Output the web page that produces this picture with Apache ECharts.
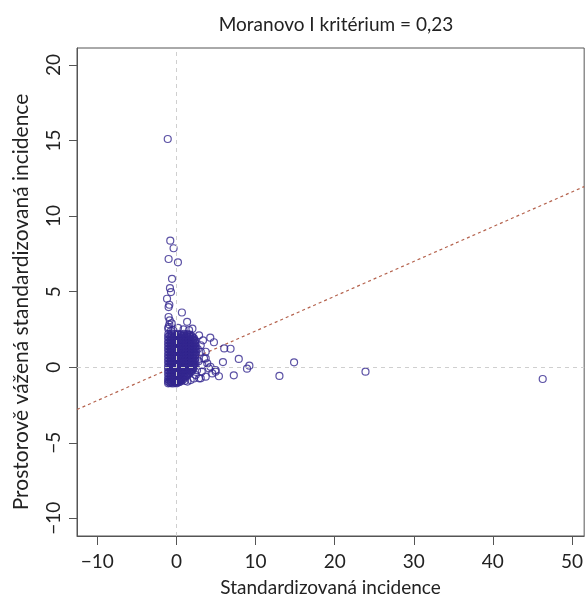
<!DOCTYPE html>
<html>
<head>
<meta charset="utf-8">
<script src="https://cdn.jsdelivr.net/npm/echarts@6/dist/echarts.min.js"></script>
<style>html,body{margin:0;padding:0;background:#fff}#c{width:586px;height:602px}</style>
</head>
<body>
<div id="c"></div>
<script>
const titleText = 'Moranovo I kritérium = 0,23';
const xAxisTitle = 'Standardizovaná incidence';
const yAxisTitle = 'Prostorově vážená standardizovaná incidence';
const xTicks = [-10, 0, 10, 20, 30, 40, 50];
const yTicks = [-10, -5, 0, 5, 10, 15, 20];

// Dense core of points
const corePoints = [
[-1.02,2.2],[-0.62,2.22],[-0.25,2.18],[0.15,2.21],[0.55,2.17],[0.95,2.2],[1.35,2.19],[1.7,2.16],
[-1.05,2.0],[-0.7,2.02],[-0.35,1.98],[0.0,2.01],[0.35,1.99],[0.7,2.02],[1.05,1.97],[1.4,2.0],[1.75,2.01],[2.05,1.98],
[-1.03,1.8],[-0.68,1.79],[-0.33,1.82],[0.02,1.78],[0.37,1.81],[0.72,1.8],[1.07,1.79],[1.42,1.82],[1.77,1.78],[2.1,1.8],[2.35,1.77],
[-1.05,1.6],[-0.7,1.61],[-0.35,1.58],[0.0,1.6],[0.35,1.62],[0.7,1.59],[1.05,1.61],[1.4,1.58],[1.75,1.6],[2.1,1.62],[2.4,1.59],
[-1.04,1.4],[-0.69,1.42],[-0.34,1.39],[0.01,1.41],[0.36,1.38],[0.71,1.4],[1.06,1.42],[1.41,1.39],[1.76,1.41],[2.11,1.38],[2.45,1.4],
[-1.05,1.2],[-0.7,1.19],[-0.35,1.21],[0.0,1.2],[0.35,1.18],[0.7,1.21],[1.05,1.2],[1.4,1.22],[1.75,1.19],[2.1,1.2],[2.45,1.21],
[-1.03,1.0],[-0.68,1.01],[-0.33,0.99],[0.02,1.02],[0.37,1.0],[0.72,0.98],[1.07,1.01],[1.42,1.0],[1.77,0.99],[2.12,1.02],[2.48,1.0],
[-1.05,0.8],[-0.7,0.79],[-0.35,0.81],[0.0,0.8],[0.35,0.82],[0.7,0.79],[1.05,0.8],[1.4,0.81],[1.75,0.78],[2.1,0.8],[2.42,0.82],
[-1.04,0.6],[-0.69,0.61],[-0.34,0.59],[0.01,0.6],[0.36,0.62],[0.71,0.58],[1.06,0.6],[1.41,0.61],[1.76,0.59],[2.11,0.6],[2.4,0.58],
[-1.05,0.4],[-0.7,0.41],[-0.35,0.39],[0.0,0.4],[0.35,0.38],[0.7,0.41],[1.05,0.4],[1.4,0.42],[1.75,0.39],[2.1,0.4],[2.38,0.41],
[-1.03,0.2],[-0.68,0.19],[-0.33,0.21],[0.02,0.2],[0.37,0.22],[0.72,0.19],[1.07,0.2],[1.42,0.18],[1.77,0.21],[2.12,0.2],[2.32,0.19],
[-1.05,0.0],[-0.7,0.01],[-0.35,-0.01],[0.0,0.0],[0.35,0.02],[0.7,-0.01],[1.05,0.0],[1.4,0.01],[1.75,-0.02],[2.08,0.0],[2.25,0.02],
[-1.04,-0.2],[-0.69,-0.19],[-0.34,-0.21],[0.01,-0.2],[0.36,-0.18],[0.71,-0.2],[1.06,-0.21],[1.41,-0.19],[1.72,-0.2],[2.0,-0.22],
[-1.05,-0.4],[-0.7,-0.41],[-0.35,-0.39],[0.0,-0.4],[0.35,-0.42],[0.7,-0.39],[1.05,-0.4],[1.38,-0.41],[1.65,-0.38],
[-1.03,-0.6],[-0.68,-0.59],[-0.33,-0.61],[0.02,-0.6],[0.37,-0.58],[0.72,-0.6],[1.0,-0.62],[1.25,-0.59],
[-1.05,-0.8],[-0.7,-0.79],[-0.35,-0.81],[0.0,-0.8],[0.35,-0.78],[0.62,-0.8],[0.85,-0.82],
[-1.04,-0.95],[-0.69,-0.96],[-0.34,-0.94],[0.0,-0.95],[0.25,-0.93],[0.45,-0.96],
[-1.05,-1.07],[-0.75,-1.06],[-0.45,-1.08],[-0.15,-1.05],[0.05,-1.07]
];

// Further points inside the core, between the rows above
const coreFillPoints = [
[-0.87,2.1],[-0.52,2.11],[-0.17,2.09],[0.18,2.1],[0.53,2.12],[0.88,2.09],[1.23,2.1],[1.58,2.11],[1.9,2.08],
[-0.87,1.9],[-0.52,1.91],[-0.17,1.89],[0.18,1.9],[0.53,1.92],[0.88,1.89],[1.23,1.9],[1.58,1.91],[1.93,1.88],[2.22,1.9],
[-0.87,1.7],[-0.52,1.69],[-0.17,1.71],[0.18,1.7],[0.53,1.68],[0.88,1.71],[1.23,1.7],[1.58,1.72],[1.93,1.69],[2.28,1.7],
[-0.87,1.5],[-0.52,1.51],[-0.17,1.49],[0.18,1.5],[0.53,1.52],[0.88,1.49],[1.23,1.5],[1.58,1.51],[1.93,1.48],[2.3,1.5],
[-0.87,1.3],[-0.52,1.29],[-0.17,1.31],[0.18,1.3],[0.53,1.28],[0.88,1.31],[1.23,1.3],[1.58,1.32],[1.93,1.29],[2.3,1.3],
[-0.87,1.1],[-0.52,1.11],[-0.17,1.09],[0.18,1.1],[0.53,1.12],[0.88,1.09],[1.23,1.1],[1.58,1.11],[1.93,1.08],[2.3,1.1],
[-0.87,0.9],[-0.52,0.89],[-0.17,0.91],[0.18,0.9],[0.53,0.88],[0.88,0.91],[1.23,0.9],[1.58,0.92],[1.93,0.89],[2.3,0.9],
[-0.87,0.7],[-0.52,0.71],[-0.17,0.69],[0.18,0.7],[0.53,0.72],[0.88,0.69],[1.23,0.7],[1.58,0.71],[1.93,0.68],[2.28,0.7],
[-0.87,0.5],[-0.52,0.49],[-0.17,0.51],[0.18,0.5],[0.53,0.48],[0.88,0.51],[1.23,0.5],[1.58,0.52],[1.93,0.49],[2.25,0.5],
[-0.87,0.3],[-0.52,0.31],[-0.17,0.29],[0.18,0.3],[0.53,0.32],[0.88,0.29],[1.23,0.3],[1.58,0.31],[1.93,0.28],[2.22,0.3],
[-0.87,0.1],[-0.52,0.09],[-0.17,0.11],[0.18,0.1],[0.53,0.08],[0.88,0.11],[1.23,0.1],[1.58,0.12],[1.93,0.09],[2.18,0.1],
[-0.87,-0.1],[-0.52,-0.09],[-0.17,-0.11],[0.18,-0.1],[0.53,-0.08],[0.88,-0.11],[1.23,-0.1],[1.58,-0.09],[1.9,-0.12],[2.12,-0.1],
[-0.87,-0.3],[-0.52,-0.31],[-0.17,-0.29],[0.18,-0.3],[0.53,-0.32],[0.88,-0.29],[1.23,-0.3],[1.55,-0.31],[1.85,-0.29],
[-0.87,-0.5],[-0.52,-0.49],[-0.17,-0.51],[0.18,-0.5],[0.53,-0.48],[0.88,-0.51],[1.2,-0.5],[1.45,-0.49],
[-0.87,-0.7],[-0.52,-0.71],[-0.17,-0.69],[0.18,-0.7],[0.53,-0.72],[0.82,-0.69],[1.05,-0.7],
[-0.87,-0.88],[-0.52,-0.87],[-0.17,-0.89],[0.18,-0.88],[0.45,-0.86],[0.65,-0.89],
[-0.9,-1.01],[-0.6,-1.0],[-0.3,-1.02],[0.0,-1.01],[0.3,-0.99]
];

// Scattered points around the core
const outerPoints = [
[-1.1,15.1],[-0.78,8.37],[-0.36,7.87],[-0.99,7.16],[0.19,6.94],[-0.56,5.85],[-0.82,5.23],[-0.69,4.97],
[-1.19,4.53],[-0.9,4.13],[-0.99,3.98],[0.69,3.62],[-0.99,3.32],[1.35,3.0],[-0.9,2.82],[-1.03,2.55],
[-0.69,2.4],[2.02,2.55],[-1.0,2.65],[-0.85,3.1],[-0.6,2.9],[0.2,2.6],[0.9,2.5],[1.6,2.45],[-0.4,2.45],
[4.28,1.95],[4.74,1.65],[6.04,1.24],[6.84,1.22],[7.88,0.55],[5.88,0.34],[9.22,0.1],[8.92,-0.1],
[14.87,0.32],[13.02,-0.58],[7.25,-0.54],[5.37,-0.6],[4.95,-0.3],[3.27,0.14],[3.07,1.02],
[23.9,-0.3],[46.3,-0.78],
[3.36,1.78],[3.7,0.58],[3.9,0.25],[4.3,0.03],[2.86,-0.74],[1.8,-0.85],[3.7,-0.63],[4.53,-0.41],
[2.86,2.11],[3.07,1.45],[3.7,1.02],[3.49,0.58],[4.11,-0.08],[4.95,-0.19],[2.45,-0.52],[3.07,-0.74],[1.39,-0.95],
[2.7,1.2],[2.8,0.4],[2.6,-0.2],[3.2,-0.3],[2.2,-0.75],[1.1,-0.9]
];

// Regression line endpoints
const regLine = [[-12.57, -2.8], [51.54, 11.95]];

const FONT = 'Lato, "Noto Sans", sans-serif';
const PT = '#33278f';
const fmt = v => String(v).replace('-', '\u2212');

const chart = echarts.init(document.getElementById('c'), null, {renderer: 'canvas'});
chart.setOption({
  animation: false,
  backgroundColor: '#ffffff',
  textStyle: {fontFamily: FONT},
  graphic: [{
    type: 'text', x: 336, y: 25,
    style: {text: titleText, textAlign: 'center', textVerticalAlign: 'middle',
            font: '19px ' + FONT, fill: '#222'}
  }, {
    type: 'text', x: 21, y: 302, rotation: Math.PI / 2,
    style: {text: yAxisTitle, textAlign: 'center', textVerticalAlign: 'middle',
            font: '21px ' + FONT, fill: '#222'}
  }],
  grid: {left: 77, top: 48, right: -2, bottom: 63.5, show: true, borderColor: '#555', borderWidth: 1, backgroundColor: 'transparent'},
  xAxis: {
    type: 'value', min: -12.57, max: 51.54,
    name: xAxisTitle, nameLocation: 'middle', nameGap: 42,
    nameTextStyle: {fontSize: 19, color: '#222', fontFamily: FONT},
    axisLine: {show: true, onZero: false, lineStyle: {color: '#555'}},
    axisTick: {show: true, length: 9, lineStyle: {color: '#555'}, customValues: xTicks},
    axisLabel: {fontSize: 19, color: '#222', margin: 16, customValues: xTicks, formatter: fmt, fontFamily: FONT},
    splitLine: {show: false}
  },
  yAxis: {
    type: 'value', min: -11.17, max: 21.12,
    axisLine: {show: true, onZero: false, lineStyle: {color: '#555'}},
    axisTick: {show: true, length: 8, lineStyle: {color: '#555'}, customValues: yTicks},
    axisLabel: {fontSize: 19, color: '#222', margin: 14, rotate: 90, customValues: yTicks, formatter: fmt, fontFamily: FONT},
    splitLine: {show: false}
  },
  series: [
    {
      type: 'line', data: regLine, symbol: 'none', silent: true, z: 1,
      lineStyle: {color: '#b5634e', width: 1.2, type: [3, 3]},
      markLine: {
        silent: true, symbol: 'none', label: {show: false},
        lineStyle: {color: '#cfcfcf', width: 1, type: [4, 4]},
        data: [{xAxis: 0}, {yAxis: 0}]
      }
    },
    {
      type: 'scatter', data: corePoints.concat(coreFillPoints, outerPoints), symbol: 'circle', symbolSize: 7, z: 3,
      itemStyle: {color: 'rgba(0,0,0,0)', borderColor: PT, borderWidth: 1.2}
    }
  ]
});
</script>
</body>
</html>
